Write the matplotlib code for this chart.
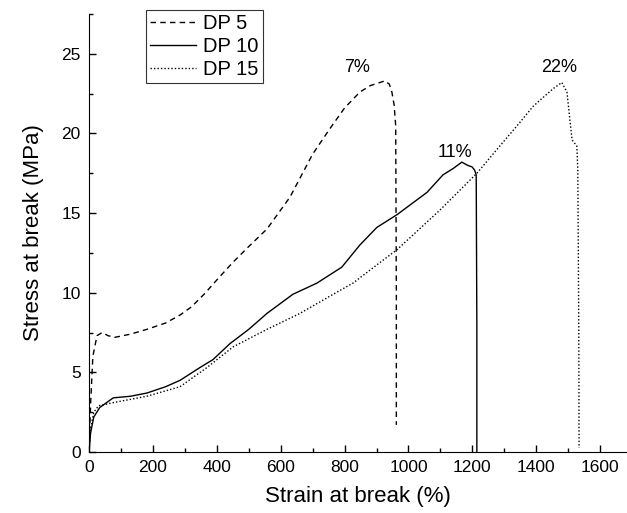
import matplotlib as mpl
mpl.use('Agg')
import matplotlib.pyplot as plt
from matplotlib.ticker import MultipleLocator

plt.rcParams['font.family'] = ['Liberation Sans', 'DejaVu Sans']

# strain (%) / stress (MPa)
dp5_x = [0, 5, 12, 25, 41, 60, 81, 130, 181, 240, 285, 320, 360, 400, 450, 500, 557, 629,
         700, 754, 800, 848, 880, 926, 940, 948, 955, 960, 962, 962]
dp5_y = [0, 3.0, 6.0, 7.3, 7.5, 7.3, 7.2, 7.4, 7.7, 8.1, 8.6, 9.1, 9.9, 10.8, 11.9, 12.9, 14.0, 16.0,
         18.7, 20.3, 21.6, 22.6, 23.0, 23.3, 23.1, 22.6, 21.8, 20.5, 10.0, 1.7]

dp10_x = [0, 5, 15, 34, 76, 130, 181, 240, 285, 347, 388, 441, 500, 557, 638, 713, 791, 848,
          901, 964, 1058, 1108, 1140, 1167, 1185, 1199, 1207, 1212, 1214, 1214]
dp10_y = [0, 1.2, 2.2, 2.8, 3.4, 3.5, 3.7, 4.1, 4.5, 5.3, 5.8, 6.8, 7.7, 8.7, 9.9, 10.6, 11.6, 13.0,
          14.1, 14.9, 16.3, 17.4, 17.8, 18.2, 18.0, 17.9, 17.7, 17.4, 8.0, 0]

dp15_x = [0, 5, 15, 30, 76, 181, 285, 369, 451, 557, 660, 764, 826, 911, 964, 1099, 1214, 1277,
          1349, 1390, 1452, 1480, 1496, 1505, 1512, 1527, 1530, 1533, 1534]
dp15_y = [0, 1.5, 2.5, 2.9, 3.1, 3.5, 4.1, 5.3, 6.6, 7.7, 8.7, 9.9, 10.6, 11.9, 12.7, 15.2, 17.5, 19.0,
          20.7, 21.7, 22.8, 23.2, 22.6, 20.9, 19.6, 19.2, 17.7, 8.0, 0.25]

labels = ['DP 5', 'DP 10', 'DP 15']
notes = ['7%', '11%', '22%']
note_x = [800, 1090, 1415]
note_y = [23.6, 18.3, 23.6]

fig = plt.figure(figsize=(6.27, 5.13), dpi=100)
ax = fig.add_axes([89 / 627, 61 / 513, 538 / 627, 438 / 513])

ax.plot(dp5_x, dp5_y, color='black', lw=1.0, ls=(0, (4, 3)), label=labels[0])
ax.plot(dp10_x, dp10_y, color='black', lw=1.0, ls='-', label=labels[1])
ax.plot(dp15_x, dp15_y, color='black', lw=1.0, ls=(0, (1, 1.5)), label=labels[2])

for t, x, y in zip(notes, note_x, note_y):
    ax.text(x, y, t, fontsize=13, ha='left', va='bottom')

ax.set_xlim(0, 1684)
ax.set_ylim(0, 27.5)
ax.xaxis.set_major_locator(MultipleLocator(200))
ax.xaxis.set_minor_locator(MultipleLocator(100))
ax.yaxis.set_major_locator(MultipleLocator(5))
ax.yaxis.set_minor_locator(MultipleLocator(2.5))
ax.tick_params(which='both', direction='in', top=False, right=False, labelsize=12.5, width=1)
ax.tick_params(which='major', length=5, pad=6)
ax.tick_params(which='minor', length=3)
ax.spines['top'].set_visible(False)
ax.spines['right'].set_visible(False)

ax.set_xlabel('Strain at break (%)', fontsize=16, labelpad=8)
ax.set_ylabel('Stress at break (MPa)', fontsize=16, labelpad=12)

leg = ax.legend(loc='upper left', bbox_to_anchor=(57 / 538, 1.01), fontsize=14.5, frameon=True,
                fancybox=False, edgecolor='black', handlelength=2.3, handletextpad=0.35,
                borderpad=0.2, labelspacing=0.2, borderaxespad=0)
leg.get_frame().set_linewidth(0.8)

fig.savefig('out.png', dpi=100)
